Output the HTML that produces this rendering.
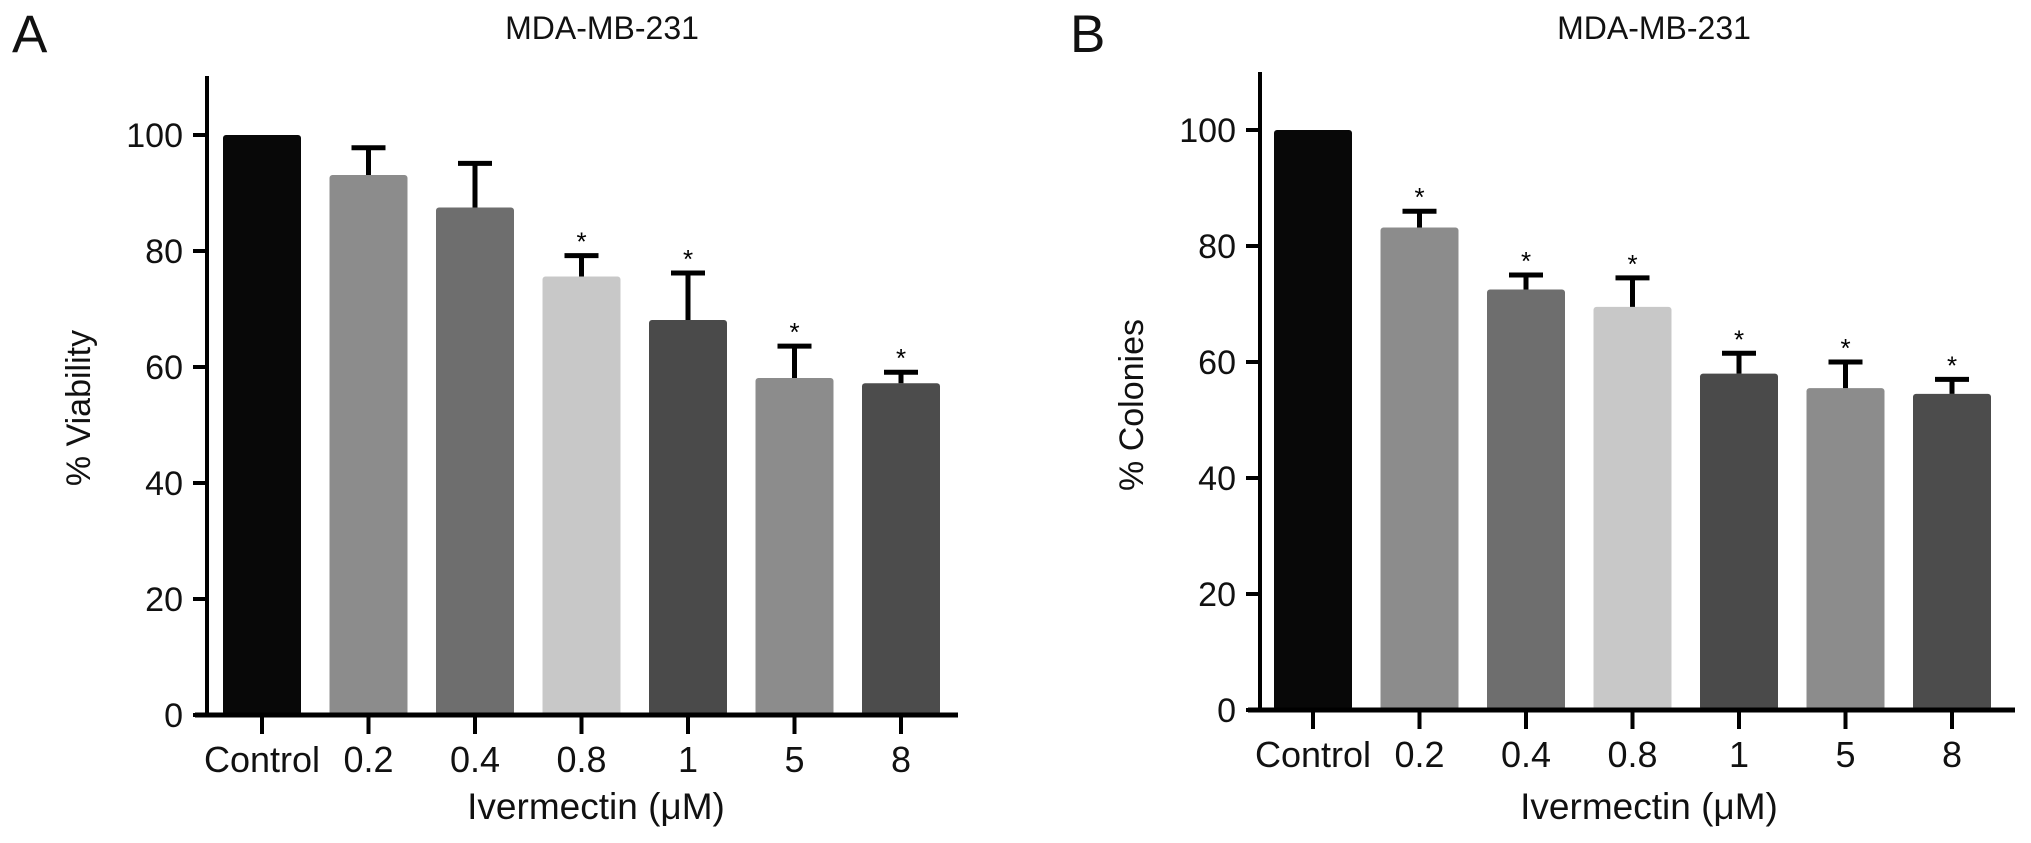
<!DOCTYPE html>
<html><head><meta charset="utf-8"><style>
html,body{margin:0;padding:0;background:#fff;}
svg{display:block;font-family:"Liberation Sans",Arial,sans-serif;}
</style></head><body>
<svg id="fig" width="2031" height="843" viewBox="0 0 2031 843"></svg>
<script>
const categories = ["Control","0.2","0.4","0.8","1","5","8"];
const viabilityValues = [100,93.1,87.5,75.6,68.1,58.1,57.2];
const viabilityErrors = [0,4.7,7.6,3.6,8.1,5.5,1.9];
const viabilitySig = [false,false,false,true,true,true,true];
const coloniesValues = [100,83.2,72.5,69.5,58.0,55.5,54.5];
const coloniesErrors = [0,2.8,2.5,5.0,3.5,4.5,2.5];
const coloniesSig = [false,true,true,true,true,true,true];
const yTicks = [0,20,40,60,80,100];
const barColors = ["#080808","#8c8c8c","#6e6e6e","#c8c8c8","#4a4a4a","#8c8c8c","#4c4c4c"];

const NS="http://www.w3.org/2000/svg";
const svg=document.getElementById('fig');
function mk(tag,attrs,parent){const e=document.createElementNS(NS,tag);for(const k in attrs)e.setAttribute(k,attrs[k]);(parent||svg).appendChild(e);return e;}

function panel(cfg){
  const g=mk('g',{});
  
  
  const x0=cfg.axisX, y0=cfg.zeroY, ppu=cfg.ppu;
  const yScale=v=>y0-v*ppu;
  const xCenter=i=>cfg.firstCenter+i*cfg.step;
  const L=mk('text',{x:cfg.letterX,y:52,'font-size':53,fill:'#111'},g);L.textContent=cfg.letter;
  
  
  const T=mk('text',{x:cfg.titleCenter,y:39,'font-size':32,'text-anchor':'middle',fill:'#111'},g);T.textContent='MDA-MB-231';
  
  
  cfg.values.forEach((v,i)=>{
    const cx=xCenter(i), w=cfg.barW;
    const r=mk('rect',{x:cx-w/2,y:yScale(v),width:w,height:y0-yScale(v),fill:barColors[i],rx:3},g);
    
    
    const e=cfg.errors[i];
    if(e>0){
      const top=yScale(v+e);
      const eb=mk('path',{d:`M${cx} ${yScale(v)} V${top} M${cx-17} ${top} H${cx+17}`,stroke:'#000','stroke-width':5,fill:'none'},g);
      
      
    }
    if(cfg.sig[i]){
      const s=mk('text',{x:cx,y:yScale(v+e)-5,'font-size':26,'text-anchor':'middle',fill:'#000'},g);s.textContent='*';
      
      
    }
    const tk=mk('line',{x1:cx,y1:y0,x2:cx,y2:y0+19,stroke:'#000','stroke-width':4},g);
    
    
    const lb=mk('text',{x:cx,y:y0+57,'font-size':36,'text-anchor':'middle',fill:'#111'},g);lb.textContent=categories[i];
    
    
  });
  const ya=mk('line',{x1:x0,y1:cfg.axisTop,x2:x0,y2:y0+2,stroke:'#000','stroke-width':4},g);
  
  
  const xa=mk('line',{x1:x0-12,y1:y0,x2:cfg.axisRight,y2:y0,stroke:'#000','stroke-width':5},g);
  
  
  yTicks.forEach(t=>{
    const y=yScale(t);
    const tk=mk('line',{x1:x0-14,y1:y,x2:x0,y2:y,stroke:'#000','stroke-width':4},g);
    
    
    const lb=mk('text',{x:x0-24,y:y+12,'font-size':34,'text-anchor':'end',fill:'#111'},g);lb.textContent=t;
    
    
  });
  const yt=mk('text',{x:0,y:0,'font-size':34,'text-anchor':'middle',fill:'#111',transform:`translate(${cfg.yTitleX},${cfg.yTitleY}) rotate(-90)`},g);
  yt.textContent=cfg.yTitle;
  
  
  const xt=mk('text',{x:cfg.xTitleX,y:819,'font-size':37,'text-anchor':'middle',fill:'#111'},g);
  xt.textContent='Ivermectin (\u03bcM)';
  
  
}

panel({name:'panel-a-viability',letter:'A',letterX:12,titleCenter:602,axisX:207,zeroY:715,ppu:5.8,axisTop:76,axisRight:958,
  firstCenter:262,step:106.5,barW:78,values:viabilityValues,errors:viabilityErrors,sig:viabilitySig,
  yTitle:'% Viability',yTitleX:90,yTitleY:408,xTitleX:596});
panel({name:'panel-b-colonies',letter:'B',letterX:1070,titleCenter:1654,axisX:1260,zeroY:710,ppu:5.8,axisTop:72,axisRight:2015,
  firstCenter:1313,step:106.5,barW:78,values:coloniesValues,errors:coloniesErrors,sig:coloniesSig,
  yTitle:'% Colonies',yTitleX:1143,yTitleY:405,xTitleX:1649});
</script>
</body></html>
